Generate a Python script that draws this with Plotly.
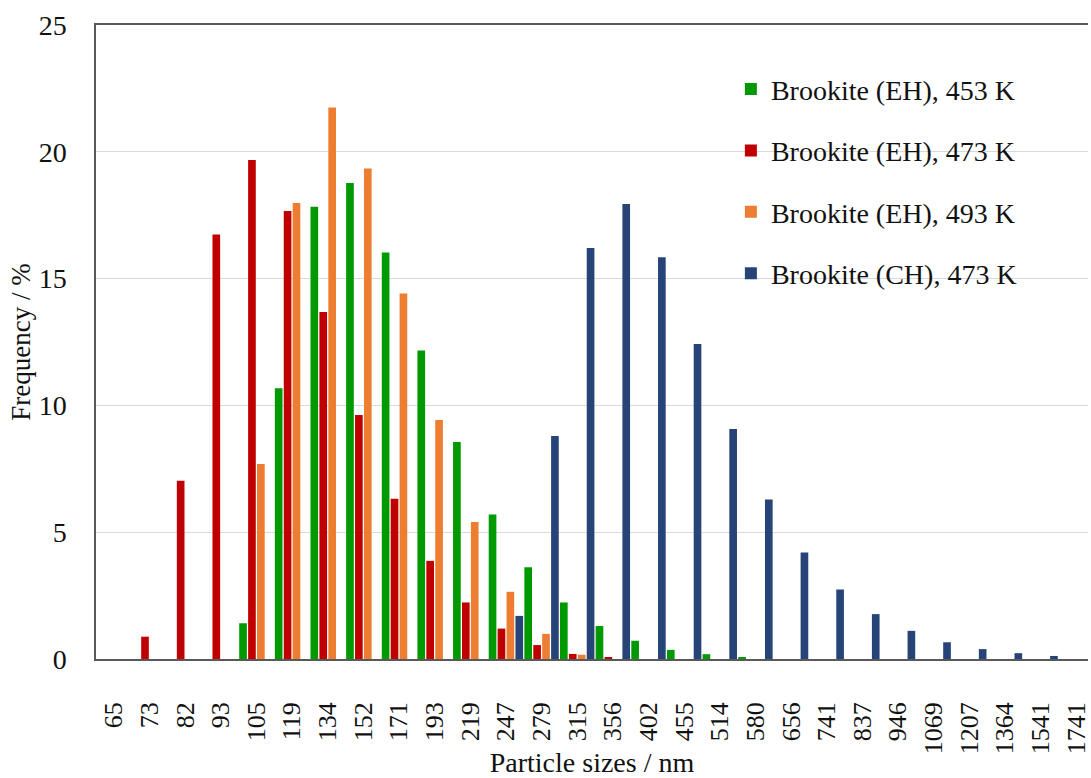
import plotly.graph_objects as go

# Particle size classes (nm)
sizes = ["65", "73", "82", "93", "105", "119", "134", "152", "171", "193",
         "219", "247", "279", "315", "356", "402", "455", "514", "580", "656",
         "741", "837", "946", "1069", "1207", "1364", "1541", "1741"]

# Frequency (%) per size class
eh_453 = [0, 0, 0, 0, 1.41, 10.68, 17.83, 18.77, 16.03, 12.16,
          8.56, 5.70, 3.62, 2.23, 1.30, 0.72, 0.36, 0.19, 0.08, 0,
          0, 0, 0, 0, 0, 0, 0, 0]
eh_473 = [0, 0.88, 7.03, 16.74, 19.68, 17.67, 13.68, 9.62, 6.32, 3.87,
          2.23, 1.20, 0.55, 0.20, 0.05, 0, 0, 0, 0, 0,
          0, 0, 0, 0, 0, 0, 0, 0]
eh_493 = [0, 0, 0, 0, 7.69, 17.98, 21.75, 19.34, 14.41, 9.42,
          5.40, 2.65, 0.99, 0.17, 0, 0, 0, 0, 0, 0,
          0, 0, 0, 0, 0, 0, 0, 0]
ch_473 = [0, 0, 0, 0, 0, 0, 0, 0, 0, 0,
          0, 1.70, 8.79, 16.21, 17.94, 15.84, 12.42, 9.07, 6.29, 4.20,
          2.74, 1.77, 1.11, 0.66, 0.39, 0.23, 0.12, 0]

series_names = ["Brookite (EH), 453 K", "Brookite (EH), 473 K",
                "Brookite (EH), 493 K", "Brookite (CH), 473 K"]
series_values = [eh_453, eh_473, eh_493, ch_473]
series_colors = ["#009900", "#C00000", "#ED7D31", "#264478"]

FONT = "Liberation Serif"

fig = go.Figure()
for i, (name, vals, col) in enumerate(zip(series_names, series_values, series_colors)):
    fig.add_trace(go.Bar(
        x=sizes, y=vals, name=name,
        marker=dict(color=col, line=dict(width=0)),
        legendgroup=f"g{i}",
    ))

fig.update_layout(
    width=1091, height=778,
    margin=dict(l=96, r=0, t=25, b=119),
    paper_bgcolor="white", plot_bgcolor="white",
    barmode="group", bargap=0.0, bargroupgap=0.14,
    font=dict(family=FONT, size=26, color="#111111"),
    showlegend=True,
    legend=dict(
        x=0.640, y=0.938, xanchor="left", yanchor="top",
        font=dict(family=FONT, size=28, color="#111111"),
        tracegroupgap=22, bgcolor="rgba(0,0,0,0)",
        itemsizing="constant",
    ),
)

fig.update_xaxes(
    type="category", range=[-0.5, 27.33],
    tickangle=-90, tickfont=dict(family=FONT, size=26, color="#111111"),
    ticks="", ticklabelstandoff=31,
    showline=True, linecolor="#595959", linewidth=1.5, mirror=True,
    showgrid=False,
    title=dict(text="Particle sizes / nm", font=dict(family=FONT, size=28, color="#111111"),
               standoff=4),
)
fig.update_yaxes(
    range=[0, 25], dtick=5,
    tickfont=dict(family=FONT, size=28, color="#111111"),
    ticks="", ticklabelstandoff=22,
    showline=True, linecolor="#595959", linewidth=1.5,
    showgrid=True, gridcolor="#D9D9D9", gridwidth=1.3,
    zeroline=False,
    title=dict(text="Frequency / %", font=dict(family=FONT, size=27, color="#111111"),
               standoff=0),
)

fig.write_html("out.html")
